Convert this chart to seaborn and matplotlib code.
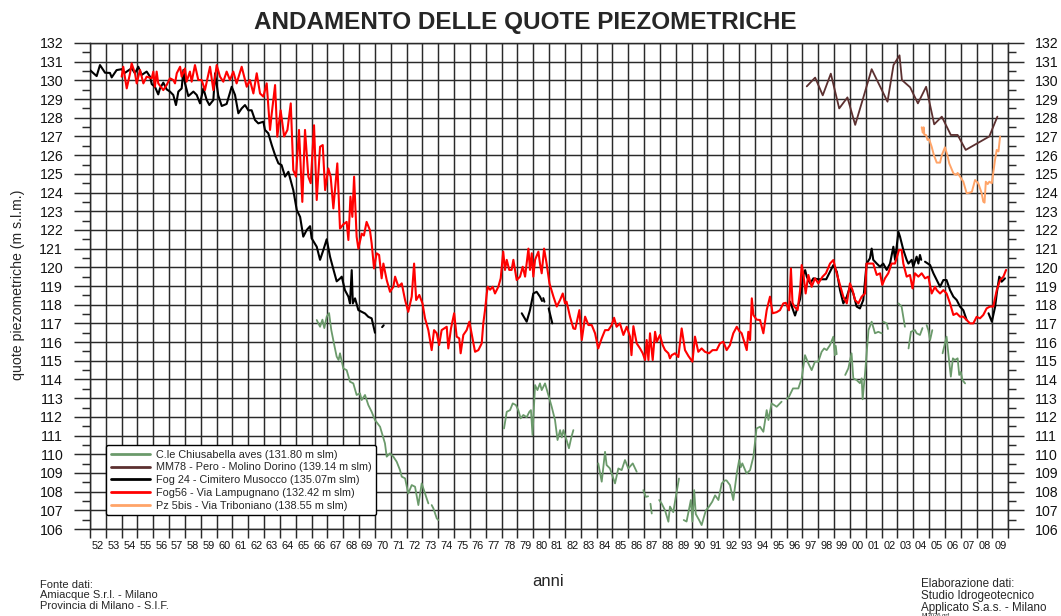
import numpy as np
import pandas as pd
import matplotlib
matplotlib.use("Agg")
import matplotlib.pyplot as plt
from matplotlib.lines import Line2D
from matplotlib.ticker import FixedLocator, FixedFormatter, NullFormatter
import seaborn as sns

NaN = np.nan

# ---- Fog 24 - Cimitero Musocco (NaN marks a gap in the record) ----
fog24_anni = [
    1952.00, 1952.42, 1952.63, 1952.95, 1953.26, 1953.37, 1953.68, 1954.00, 1954.20, 1954.63,
    1954.84, 1955.05, 1955.26, 1955.58, 1955.79, 1955.90, 1956.10, 1956.31, 1956.42, 1956.63,
    1956.84, 1957.05, 1957.26, 1957.43, 1957.58, 1957.79, 1957.90, 1958.00, 1958.21, 1958.53,
    1958.74, 1958.95, 1959.16, 1959.37, 1959.54, 1959.79, 1959.90, 1960.10, 1960.32, 1960.63,
    1960.95, 1961.16, 1961.37, 1961.58, 1961.79, 1962.00, 1962.21, 1962.42, 1962.63, 1962.95,
    1963.05, 1963.26, 1963.48, 1963.69, 1963.90, 1964.10, 1964.32, 1964.53, 1964.84, 1965.06,
    1965.27, 1965.47, 1965.69, 1965.90, 1966.00, 1966.32, 1966.53, 1966.74, 1966.95, 1967.16,
    1967.37, 1967.58, 1967.79, 1967.90, 1968.10, 1968.32, 1968.42, 1968.53, 1968.60, 1968.74,
    1968.95, 1969.16, 1969.37, 1969.58, 1969.79, 1970.00, NaN,
    1970.45, 1970.55, NaN,
    1979.27, 1979.58, 1979.79, 1980.00, 1980.21, 1980.42, 1980.55, NaN,
    1980.63, 1980.70, NaN,
    1980.97, 1981.20, NaN,
    1996.22, 1996.53, 1996.85, 1997.06, 1997.17, 1997.27, 1997.48, 1997.69, 1998.00, 1998.50,
    1998.95, 1999.17, 1999.37, 1999.58, 1999.80, 2000.00, 2000.21, 2000.42, 2000.63, 2000.84,
    2001.05, 2001.26, 2001.37, 2001.47, 2001.69, 2001.90, 2002.10, 2002.32, 2002.53, 2002.74,
    2002.85, 2003.06, 2003.16, 2003.37, 2003.58, 2003.69, 2003.90, 2004.00, 2004.21, 2004.32,
    2004.42, 2004.50, NaN,
    2004.74, 2005.06, 2005.27, 2005.48, 2005.69, 2005.90, 2006.10, 2006.32, 2006.53, 2006.74,
    2006.95, 2007.16, 2007.37, NaN,
    2008.75, 2008.96, 2009.17, 2009.27, 2009.43, 2009.58, 2009.79,
]
fog24_quote = [
    130.55, 130.23, 130.82, 130.41, 130.40, 130.16, 130.55, 130.60, 130.40, 130.65,
    130.38, 130.73, 130.29, 130.47, 130.20, 129.80, 129.66, 129.25, 129.57, 129.88,
    129.52, 129.40, 129.22, 128.68, 129.40, 129.57, 130.56, 129.84, 129.16, 129.40,
    129.22, 128.77, 129.57, 128.95, 128.68, 128.95, 130.38, 129.20, 128.63, 128.74,
    129.66, 129.22, 128.24, 128.50, 128.68, 128.40, 128.40, 127.88, 127.70, 127.79,
    127.35, 127.17, 126.54, 126.00, 125.56, 125.47, 124.85, 125.11, 124.13, 123.06,
    122.70, 121.64, 122.00, 122.20, 121.55, 121.10, 120.40, 120.93, 121.50, 120.57,
    119.90, 119.25, 119.40, 119.50, 118.78, 118.43, 118.07, 119.85, 118.07, 118.34,
    117.71, 117.62, 117.53, 117.35, 117.27, 116.50, NaN,
    116.80, 116.90, NaN,
    117.54, 117.09, 117.71, 118.60, 118.69, 118.43, 118.20, NaN,
    118.35, 118.16, NaN,
    117.80, 117.00, NaN,
    118.16, 117.42, 118.30, 119.60, 119.85, 119.50, 119.14, 119.41, 119.36, 119.36,
    120.12, 119.76, 118.78, 118.07, 118.43, 118.96, 118.60, 117.90, 117.80, 118.25,
    120.20, 120.48, 121.00, 120.40, 120.20, 120.03, 120.20, 119.86, 120.20, 121.10,
    120.40, 121.90, 121.64, 120.93, 120.40, 120.20, 120.40, 120.03, 120.57, 120.20,
    120.66, 120.40, NaN,
    120.30, 120.12, 119.68, 119.32, 118.96, 119.32, 119.32, 118.78, 118.43, 118.25,
    117.90, 117.70, 117.18, NaN,
    117.54, 117.09, 117.90, 118.60, 119.50, 119.23, 119.41,
]

# ---- Fog56 - Via Lampugnano ----
fog56_anni = [
    1954.00, 1954.10, 1954.32, 1954.53, 1954.63, 1954.84, 1954.95, 1955.16, 1955.37, 1955.58,
    1955.90, 1956.00, 1956.10, 1956.21, 1956.31, 1956.63, 1956.84, 1957.05, 1957.26, 1957.37,
    1957.48, 1957.69, 1957.79, 1958.00, 1958.10, 1958.31, 1958.42, 1958.63, 1958.84, 1959.05,
    1959.26, 1959.58, 1959.79, 1960.00, 1960.21, 1960.42, 1960.63, 1960.84, 1961.05, 1961.26,
    1961.58, 1961.90, 1962.10, 1962.32, 1962.53, 1962.74, 1962.95, 1963.16, 1963.37, 1963.48,
    1963.69, 1963.83, 1964.04, 1964.26, 1964.47, 1964.68, 1964.84, 1965.01, 1965.20, 1965.41,
    1965.58, 1965.79, 1965.94, 1966.15, 1966.32, 1966.53, 1966.70, 1966.85, 1967.05, 1967.20,
    1967.37, 1967.62, 1967.79, 1968.00, 1968.21, 1968.32, 1968.45, 1968.57, 1968.68, 1968.84,
    1968.95, 1969.16, 1969.30, 1969.47, 1969.68, 1969.79, 1969.94, 1970.10, 1970.26, 1970.42,
    1970.53, 1970.74, 1970.95, 1971.16, 1971.27, 1971.48, 1971.69, 1971.90, 1972.10, 1972.32,
    1972.47, 1972.60, 1972.80, 1973.00, 1973.16, 1973.37, 1973.58, 1973.73, 1973.90, 1974.05,
    1974.21, 1974.53, 1974.63, 1974.80, 1975.00, 1975.16, 1975.32, 1975.41, 1975.58, 1975.79,
    1975.96, 1976.10, 1976.32, 1976.53, 1976.74, 1976.84, 1976.95, 1977.06, 1977.12, 1977.27,
    1977.43, 1977.58, 1977.79, 1977.94, 1978.10, 1978.21, 1978.32, 1978.48, 1978.63, 1978.74,
    1978.95, 1979.16, 1979.33, 1979.48, 1979.69, 1979.79, 1979.90, 1980.00, 1980.11, 1980.32,
    1980.42, 1980.53, 1980.68, 1980.84, 1981.02, 1981.27, 1981.48, 1981.69, 1981.86, 1982.00,
    1982.10, 1982.32, 1982.53, 1982.65, 1982.91, 1983.06, 1983.27, 1983.48, 1983.69, 1983.90,
    1984.10, 1984.32, 1984.53, 1984.74, 1984.95, 1985.10, 1985.26, 1985.47, 1985.69, 1985.90,
    1986.11, 1986.20, 1986.32, 1986.53, 1986.74, 1986.91, 1987.06, 1987.16, 1987.27, 1987.37,
    1987.54, 1987.69, 1987.80, 1988.00, 1988.17, 1988.32, 1988.53, 1988.63, 1988.74, 1988.95,
    1989.16, 1989.37, 1989.58, 1989.80, 1990.05, 1990.21, 1990.42, 1990.63, 1990.84, 1991.10,
    1991.32, 1991.58, 1991.79, 1992.00, 1992.21, 1992.42, 1992.63, 1992.85, 1993.00, 1993.16,
    1993.48, 1993.58, 1993.69, 1993.80, 1993.90, 1994.10, 1994.32, 1994.53, 1994.74, 1994.95,
    1995.11, 1995.37, 1995.58, 1995.79, 1995.95, 1996.15, 1996.27, 1996.37, 1996.48, 1996.69,
    1996.85, 1996.95, 1997.06, 1997.20, 1997.37, 1997.58, 1997.79, 1998.00, 1998.27, 1998.48,
    1998.74, 1998.95, 1999.16, 1999.37, 1999.58, 1999.80, 2000.00, 2000.16, 2000.32, 2000.53,
    2000.74, 2000.95, 2001.05, 2001.26, 2001.47, 2001.69, 2001.90, 2002.04, 2002.21, 2002.42,
    2002.63, 2002.84, 2003.10, 2003.26, 2003.37, 2003.58, 2003.79, 2003.95, 2004.10, 2004.32,
    2004.53, 2004.74, 2004.95, 2005.16, 2005.37, 2005.48, 2005.69, 2005.90, 2006.10, 2006.32,
    2006.53, 2006.74, 2006.95, 2007.16, 2007.37, 2007.58, 2007.79, 2008.00, 2008.21, 2008.42,
    2008.63, 2008.84, 2009.05, 2009.27, 2009.48, 2009.69, 2009.86,
]
fog56_quote = [
    130.20, 130.73, 129.57, 130.38, 130.91, 130.38, 129.84, 130.56, 129.84, 130.20,
    130.11, 130.47, 129.66, 130.47, 129.84, 129.48, 129.75, 130.11, 130.02, 129.84,
    130.38, 130.73, 130.20, 130.64, 129.93, 130.47, 129.93, 130.82, 130.02, 130.02,
    129.48, 130.73, 129.48, 130.82, 130.20, 129.93, 130.47, 130.02, 130.47, 129.84,
    130.73, 129.66, 130.02, 129.30, 130.38, 129.30, 129.13, 129.84, 127.35, 128.24,
    129.75, 126.99, 128.40, 127.00, 127.35, 128.77, 125.20, 124.85, 127.35, 123.50,
    127.35, 124.85, 124.50, 127.60, 123.60, 126.45, 126.54, 124.13, 125.29, 124.85,
    123.15, 125.56, 122.07, 122.30, 122.43, 121.46, 123.78, 122.70, 124.85, 121.64,
    121.00, 121.80, 121.70, 122.43, 121.99, 121.28, 119.94, 120.75, 120.66, 119.41,
    120.20, 119.32, 118.69, 118.96, 119.50, 118.96, 119.14, 118.25, 117.62, 118.43,
    120.20, 118.25, 118.52, 118.07, 117.27, 116.64, 115.57, 116.64, 116.47, 115.84,
    116.64, 116.82, 115.66, 116.73, 117.54, 116.29, 116.20, 115.40, 116.38, 116.64,
    117.09, 116.47, 115.48, 115.57, 115.93, 117.00, 117.71, 118.60, 118.96, 118.80,
    118.96, 118.60, 118.96, 119.41, 120.84, 119.86, 120.40, 119.86, 119.86, 120.40,
    119.32, 119.50, 120.03, 119.50, 121.00, 119.86, 120.75, 119.50, 120.40, 120.84,
    120.20, 119.68, 121.00, 120.20, 119.14, 118.43, 117.90, 118.25, 118.60, 118.07,
    118.16, 117.35, 116.73, 116.70, 117.71, 116.11, 117.36, 116.91, 116.91, 116.47,
    115.66, 116.20, 116.64, 116.64, 116.91, 117.30, 116.82, 117.00, 116.38, 116.82,
    116.29, 115.30, 116.85, 115.93, 115.66, 115.40, 115.04, 116.11, 115.04, 116.47,
    115.04, 116.55, 116.02, 116.38, 115.84, 115.57, 115.40, 115.13, 115.30, 115.40,
    115.20, 116.73, 115.57, 115.25, 114.95, 116.29, 115.48, 115.66, 115.48, 115.40,
    115.57, 115.57, 115.93, 116.02, 115.57, 115.84, 116.47, 116.82, 116.60, 116.47,
    115.57, 116.55, 116.11, 118.34, 117.45, 117.20, 117.18, 116.47, 117.71, 118.43,
    117.54, 117.60, 117.71, 118.07, 118.10, 117.70, 119.94, 118.10, 117.90, 117.71,
    118.78, 120.12, 119.60, 118.60, 119.59, 118.96, 119.41, 119.14, 119.50, 119.68,
    120.20, 120.39, 119.68, 119.06, 118.43, 118.07, 119.14, 118.78, 118.25, 118.07,
    118.43, 118.60, 120.20, 120.20, 120.20, 119.59, 119.68, 119.06, 119.41, 119.68,
    120.20, 120.20, 120.93, 120.93, 120.20, 119.50, 119.59, 118.87, 119.68, 119.50,
    119.68, 119.41, 119.50, 118.60, 118.96, 118.78, 118.60, 118.78, 118.60, 118.07,
    117.45, 117.54, 117.36, 117.36, 117.18, 117.00, 117.00, 117.35, 117.27, 117.45,
    117.80, 117.90, 117.90, 118.78, 119.32, 119.50, 119.86,
]

# ---- C.le Chiusabella aves ----
chiusabella_anni = [
    1966.32, 1966.53, 1966.68, 1966.80, 1966.95, 1967.10, 1967.24, 1967.45, 1967.58, 1967.70,
    1967.79, 1968.00, 1968.21, 1968.42, 1968.63, 1968.84, 1969.05, 1969.16, 1969.37, 1969.58,
    1969.79, 1970.00, 1970.32, 1970.63, 1970.74, 1970.95, 1971.16, 1971.37, 1971.58, 1971.69,
    1971.90, 1972.10, 1972.32, 1972.53, 1972.74, 1972.95, 1973.16, 1973.37, NaN,
    1973.58, 1973.69, 1973.90, 1974.00, NaN,
    1978.15, 1978.32, 1978.53, 1978.70, 1978.90, 1979.05, 1979.20, 1979.37, 1979.58, 1979.75,
    1979.85, 1979.95, 1980.11, 1980.26, 1980.42, 1980.53, 1980.74, 1980.95, 1981.16, 1981.37,
    1981.53, 1981.69, 1981.80, 1981.90, 1982.10, 1982.25, 1982.40, 1982.53, NaN,
    1984.10, 1984.32, 1984.53, 1984.63, 1984.84, 1985.16, 1985.37, 1985.58, 1985.79, 1986.00,
    1986.28, 1986.53, NaN,
    1986.95, 1987.10, 1987.25, NaN,
    1987.40, 1987.48, NaN,
    1987.95, 1988.10, 1988.32, 1988.53, 1988.63, 1988.84, 1989.00, 1989.20, NaN,
    1989.50, 1989.68, 1989.95, 1990.05, 1990.16, 1990.26, 1990.47, 1990.63, 1990.90, 1991.10,
    1991.30, 1991.48, 1991.69, 1991.90, 1992.10, 1992.20, 1992.42, 1992.63, 1992.85, 1993.00,
    1993.10, 1993.20, 1993.47, 1993.69, 1993.90, 1994.10, 1994.32, 1994.53, 1994.74, 1994.85,
    1995.05, 1995.37, 1995.68, NaN,
    1996.00, 1996.15, 1996.40, 1996.74, 1996.95, 1997.16, 1997.37, 1997.58, 1997.79, 1998.00,
    1998.21, 1998.37, 1998.53, 1998.74, 1998.95, 1999.05, NaN,
    1999.10, 1999.16, NaN,
    1999.70, 1999.90, 2000.10, 2000.21, 2000.42, 2000.63, 2000.74, 2000.80, 2000.95, 2001.17,
    2001.37, 2001.58, 2001.79, 2002.00, NaN,
    2002.10, 2002.32, 2002.40, NaN,
    2003.06, 2003.26, 2003.47, NaN,
    2003.70, 2003.85, 2004.10, 2004.21, 2004.42, 2004.58, NaN,
    2004.84, 2004.95, 2005.06, 2005.20, NaN,
    2005.85, 2006.00, 2006.10, 2006.21, 2006.37, 2006.50, 2006.63, 2006.80, 2006.90, 2007.00,
    2007.10, 2007.27,
]
chiusabella_quote = [
    117.18, 116.82, 117.20, 116.75, 117.36, 117.55, 116.64, 115.75, 115.22, 115.04,
    115.40, 114.59, 114.50, 113.88, 113.79, 113.17, 113.26, 112.90, 113.17, 112.63,
    112.27, 111.83, 111.47, 110.58, 109.87, 110.05, 109.87, 109.60, 109.15, 108.80,
    108.71, 107.90, 108.35, 108.26, 107.28, 108.44, 107.90, 107.37, NaN,
    107.28, 107.10, 106.57, 106.48, NaN,
    111.38, 112.27, 112.36, 112.72, 112.63, 112.36, 111.92, 112.10, 111.98, 112.27,
    112.36, 111.03, 113.70, 113.43, 113.79, 113.43, 113.79, 113.17, 112.54, 111.83,
    110.76, 111.29, 110.90, 111.29, 110.76, 110.32, 110.90, 111.29, NaN,
    109.51, 108.53, 110.13, 109.42, 109.24, 108.44, 109.24, 109.15, 109.69, 109.24,
    109.51, 109.06, NaN,
    108.08, 107.72, 107.75, NaN,
    107.35, 106.83, NaN,
    107.55, 107.37, 107.00, 106.39, 107.20, 106.90, 107.72, 108.70, NaN,
    106.48, 106.40, 107.55, 106.40, 108.08, 106.80, 106.48, 106.21, 107.00, 107.20,
    107.46, 107.80, 107.55, 108.44, 108.60, 108.60, 108.35, 107.55, 108.97, 109.69,
    109.30, 109.51, 108.97, 109.15, 109.87, 111.38, 111.47, 111.20, 112.36, 111.83,
    112.72, 112.54, 112.81, NaN,
    112.95, 113.08, 113.52, 113.52, 114.06, 115.30, 114.86, 114.50, 114.95, 114.95,
    115.48, 115.66, 115.57, 115.84, 116.29, 115.30, NaN,
    115.80, 115.35, NaN,
    114.24, 114.60, 115.40, 114.06, 113.97, 113.80, 114.06, 112.94, 114.30, 116.64,
    117.09, 116.47, 116.55, 116.47, NaN,
    117.09, 117.00, 116.70, NaN,
    118.07, 117.90, 116.82, NaN,
    115.66, 116.55, 116.64, 116.47, 116.38, 116.75, NaN,
    116.91, 116.64, 116.11, 116.64, NaN,
    115.40, 115.93, 116.29, 115.40, 114.15, 115.13, 115.04, 115.13, 114.24, 114.40,
    113.97, 113.79,
]

# ---- MM78 - Pero - Molino Dorino ----
mm78_anni = [
    1997.27, 1997.80, 1998.28, 1998.79, 1999.32, 1999.84, 2000.33, 2000.86, 2001.37, 2002.37,
    2002.75, 2003.13, 2003.28, 2003.80, 2004.29, 2004.81, 2005.32, 2005.80, 2006.37, 2006.80,
    2007.31, 2008.80, 2009.31,
]
mm78_quote = [
    129.68, 130.15, 129.20, 130.36, 128.50, 129.09, 127.62, 129.13, 130.60, 128.86,
    130.82, 131.34, 130.02, 129.63, 128.77, 129.66, 127.65, 128.06, 127.08, 127.08,
    126.28, 127.00, 128.06,
]

# ---- Pz 5bis - Via Triboniano ----
pz5bis_anni = [
    2004.53, 2004.60, 2004.65, 2004.70, 2004.80, 2004.90, 2005.00, 2005.16, 2005.30, 2005.48,
    2005.69, 2005.80, 2006.00, 2006.15, 2006.27, 2006.53, 2006.70, 2006.80, 2006.95, 2007.16,
    2007.37, 2007.58, 2007.70, 2007.90, 2008.10, 2008.32, 2008.42, 2008.50, 2008.58, 2008.70,
    2008.80, 2008.96, 2009.16, 2009.27, 2009.38, 2009.48,
]
pz5bis_quote = [
    127.49, 127.20, 127.49, 127.08, 127.08, 126.81, 126.85, 126.45, 126.00, 125.60,
    125.60, 126.00, 126.42, 126.00, 125.56, 125.03, 124.94, 125.05, 124.85, 124.58,
    123.96, 124.00, 124.04, 124.67, 124.50, 123.96, 123.51, 123.46, 124.58, 124.45,
    124.58, 124.50, 125.74, 126.28, 126.20, 126.99,
]

serie_nomi = [
    "C.le Chiusabella aves (131.80 m slm)",
    "MM78 - Pero - Molino Dorino (139.14 m slm)",
    "Fog 24 - Cimitero Musocco (135.07m slm)",
    "Fog56 - Via Lampugnano (132.42 m slm)",
    "Pz 5bis - Via Triboniano (138.55 m slm)",
]
serie_colori = ["#6b9a6b", "#5c3030", "#000000", "#ff0000", "#ffa468"]
serie_spessori = [1.3, 1.3, 1.5, 1.5, 1.4]
serie_dati = [
    (chiusabella_anni, chiusabella_quote),
    (mm78_anni, mm78_quote),
    (fog24_anni, fog24_quote),
    (fog56_anni, fog56_quote),
    (pz5bis_anni, pz5bis_quote),
]

anni_etichette = [f"{a % 100:02d}" for a in range(1952, 2010)]
quote_ticks = list(range(106, 133))


def to_frame(anni, quote):
    """Split a NaN-separated record into numbered continuous stretches."""
    a = np.asarray(anni, dtype=float)
    q = np.asarray(quote, dtype=float)
    tratto = np.cumsum(np.isnan(a))
    df = pd.DataFrame({"anno": a, "quota": q, "tratto": tratto})
    return df.dropna()


sns.set_theme(style="white")
plt.rcParams["font.family"] = ["Liberation Sans", "DejaVu Sans"]
plt.rcParams["axes.linewidth"] = 1.0

W, H = 1061, 616
fig = plt.figure(figsize=(W / 100, H / 100), dpi=100)
ax = fig.add_axes([90 / W, 1 - 529 / H, (1008.3 - 90) / W, (529 - 43) / H])

# plot order: green and brown beneath, red on top of black near the end
ordine = [0, 1, 4, 2, 3]
for i in ordine:
    anni, quote = serie_dati[i]
    df = to_frame(anni, quote)
    sns.lineplot(data=df, x="anno", y="quota", units="tratto", estimator=None,
                 sort=False, color=serie_colori[i], linewidth=serie_spessori[i],
                 ax=ax, legend=False, zorder=3 + i)

grid_col = "#2a2a2a"
grid_lw = 1.05
ax.set_xlim(1952, 2010)
ax.set_ylim(106, 132)

# x: year boundaries carry grid lines, year centres carry the labels
ax.xaxis.set_major_locator(FixedLocator(list(range(1952, 2011))))
ax.xaxis.set_major_formatter(NullFormatter())
ax.xaxis.set_minor_locator(FixedLocator([a + 0.5 for a in range(1952, 2010)]))
ax.xaxis.set_minor_formatter(FixedFormatter(anni_etichette))
ax.tick_params(axis="x", which="major", bottom=True, length=6.5, width=grid_lw,
               color=grid_col, direction="out")
ax.tick_params(axis="x", which="minor", bottom=True, length=0, pad=8.5,
               labelsize=7.9, labelcolor="#111111")

# y: integer levels with half-metre minor ticks on both sides
ax.yaxis.set_major_locator(FixedLocator(quote_ticks))
ax.yaxis.set_minor_locator(FixedLocator([v + 0.5 for v in range(106, 132)]))
ax.tick_params(axis="y", which="major", left=True, right=True, labelleft=True,
               labelright=True, length=11.8, width=grid_lw, color=grid_col,
               direction="out", pad=7.5, labelsize=10.2, labelcolor="#111111")
ax.tick_params(axis="y", which="minor", left=True, right=True, length=6,
               width=grid_lw, color=grid_col, direction="out")

ax.grid(True, which="major", color=grid_col, linewidth=grid_lw)
ax.set_axisbelow(True)
for s in ax.spines.values():
    s.set_color(grid_col)
    s.set_linewidth(grid_lw)
ax.set_xlabel("")
ax.set_ylabel("")

# legend
handles = [Line2D([], [], color=c, linewidth=2.0) for c in serie_colori]
leg = fig.legend(handles, serie_nomi, loc="upper left",
                 bbox_to_anchor=(106 / W, 1 - 445 / H),
                 bbox_transform=fig.transFigure, fontsize=7.8, frameon=True,
                 fancybox=True, handlelength=3.6, handletextpad=0.6,
                 labelspacing=0.26, borderpad=0.42, borderaxespad=0)
leg.get_frame().set_edgecolor("#000000")
leg.get_frame().set_linewidth(1.0)
leg.get_frame().set_facecolor("white")
leg.get_frame().set_alpha(1)
leg.set_zorder(20)

# titles and notes
fig.text(0.495, 1 - 22 / H, "ANDAMENTO DELLE QUOTE PIEZOMETRICHE",
         ha="center", va="center", fontsize=17.5, fontweight="bold")
fig.text(18 / W, 1 - 285 / H, "quote piezometriche (m s.l.m.)", rotation=90,
         ha="center", va="center", fontsize=10.2)
fig.text(548 / W, 1 - 581 / H, "anni", ha="center", va="center", fontsize=12)
fig.text(40 / W, 1 - 580 / H,
         "Fonte dati:\nAmiacque S.r.l. - Milano\nProvincia di Milano - S.I.F.",
         ha="left", va="top", fontsize=8, linespacing=1.05)
fig.text(921 / W, 1 - 578 / H,
         "Elaborazione dati:\nStudio Idrogeotecnico\nApplicato S.a.s. - Milano",
         ha="left", va="top", fontsize=8.4, linespacing=0.98)
fig.text(921 / W, 1 - 612.5 / H, "MI3026.grf", ha="left", va="top", fontsize=4.2)

fig.savefig("out.png", dpi=100, facecolor="white")
